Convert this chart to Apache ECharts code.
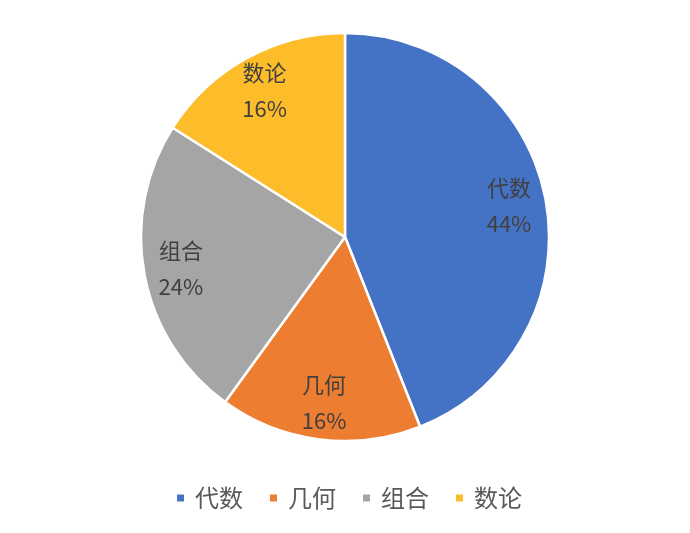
<!DOCTYPE html>
<html>
<head>
<meta charset="utf-8">
<script src="https://cdn.jsdelivr.net/npm/echarts@6/dist/echarts.min.js"></script>
<style>
  html, body { margin: 0; padding: 0; background: #fff; }
  #main { width: 690px; height: 533px; }
</style>
</head>
<body>
<div id="main"></div>
<script>
var categories = ['代数', '几何', '组合', '数论'];
var values = [44, 16, 24, 16];
var colors = ['#4472C4', '#ED7D31', '#A5A5A5', '#FDBD2A'];

var pieData = categories.map(function (name, i) {
  return { name: name, value: values[i], itemStyle: { color: colors[i] } };
});

var option = {
  backgroundColor: '#fff',
  textStyle: { fontFamily: 'Noto Sans CJK SC' },
  legend: {
    data: categories,
    left: 170,
    top: 481,
    icon: 'rect',
    itemWidth: 9,
    itemHeight: 9,
    itemGap: 25,
    textStyle: {
      fontSize: 24,
      color: '#595959',
      padding: [0, 0, 0, 5]
    }
  },
  series: [
    {
      name: 'pie',
      type: 'pie',
      center: [345, 237],
      radius: 204,
      startAngle: 90,
      clockwise: true,
      label: { show: false },
      labelLine: { show: false },
      itemStyle: { borderColor: '#fff', borderWidth: 2.5 },
      emphasis: { disabled: true },
      data: pieData
    },
    {
      // transparent ring, only used to place labels at ~80% of the radius
      name: 'labels',
      type: 'pie',
      center: [345, 237],
      radius: [124, 204],
      startAngle: 90,
      clockwise: true,
      silent: true,
      itemStyle: { color: 'transparent', borderWidth: 0 },
      label: {
        show: true,
        position: 'inside',
        formatter: '{b}\n{d}%',
        fontSize: 22,
        lineHeight: 36,
        color: '#404040'
      },
      labelLine: { show: false },
      emphasis: { disabled: true },
      data: categories.map(function (name, i) {
        return { name: name, value: values[i] };
      })
    }
  ]
};

var chartDom = document.getElementById('main');
var myChart = echarts.init(chartDom);
option && myChart.setOption(option);
</script>
</body>
</html>
